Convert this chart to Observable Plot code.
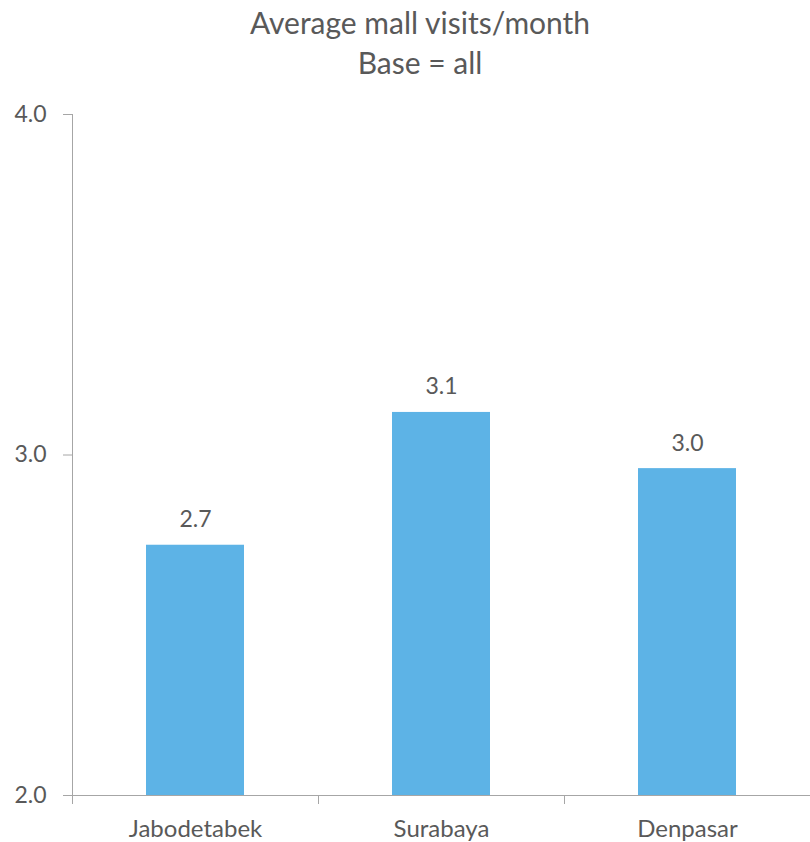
<!DOCTYPE html>
<html>
<head>
<meta charset="utf-8">
<script src="https://cdn.jsdelivr.net/npm/d3@7"></script>
<script src="https://cdn.jsdelivr.net/npm/@observablehq/plot@0.6"></script>
<style>
  html, body { margin: 0; padding: 0; background: #fff; }
  #title { width: 810px; height: 95px; box-sizing: border-box; padding-top: 2px; padding-left: 30px;
    text-align: center; font-family: Lato, "Open Sans", sans-serif; font-size: 30px; line-height: 40px; color: #595959; }
  #chart svg { display: block; }
</style>
</head>
<body>
<div id="title"><div>Average mall visits/month</div><div>Base = all</div></div>
<div id="chart"></div>
<script>
const categories = ["Jabodetabek", "Surabaya", "Denpasar"];
const values = [2.735, 3.125, 2.96];
const yMin = 2;
const yMax = 4;
const yTicks = [2, 3, 4];

const data = categories.map((c, i) => ({city: c, value: values[i]}));

const W = 810, H = 747, ML = 72, MR = 0, MT = 19, MB = 47;
const step = (W - ML - MR) / categories.length;
const axisColor = "#a6a6a6";
const textColor = "#595959";
const font = "Lato, 'Open Sans', sans-serif";

const chart = Plot.plot({
  width: W, height: H,
  marginLeft: ML, marginRight: MR, marginTop: MT, marginBottom: MB,
  style: {fontFamily: font, color: textColor, background: "white"},
  x: {type: "band", domain: categories, paddingInner: 0.6, paddingOuter: 0.3, axis: null, label: null},
  y: {domain: [yMin, yMax], axis: null, label: null},
  marks: [
    Plot.barY(data, {x: "city", y1: yMin, y2: "value", fill: "#5db3e6"}),
    Plot.frame({anchor: "left", stroke: axisColor}),
    Plot.frame({anchor: "bottom", stroke: axisColor}),
    Plot.ruleX(categories, {x: d => d, y1: yMin, y2: yMin, insetBottom: -9, dx: -step / 2, stroke: axisColor}),
    Plot.axisY({ticks: yTicks, tickSize: 9, tickPadding: 17, tickFormat: d => d.toFixed(1), label: null,
      stroke: axisColor, fill: textColor, fontSize: 23}),
    Plot.axisX({tickSize: 0, tickPadding: 24, label: null, fill: textColor, fontSize: 24}),
    Plot.text(data, {x: "city", y: "value", text: d => d.value.toFixed(1), dy: -18,
      lineAnchor: "bottom", fill: textColor, fontSize: 23})
  ]
});
document.getElementById("chart").appendChild(chart);
</script>
</body>
</html>
